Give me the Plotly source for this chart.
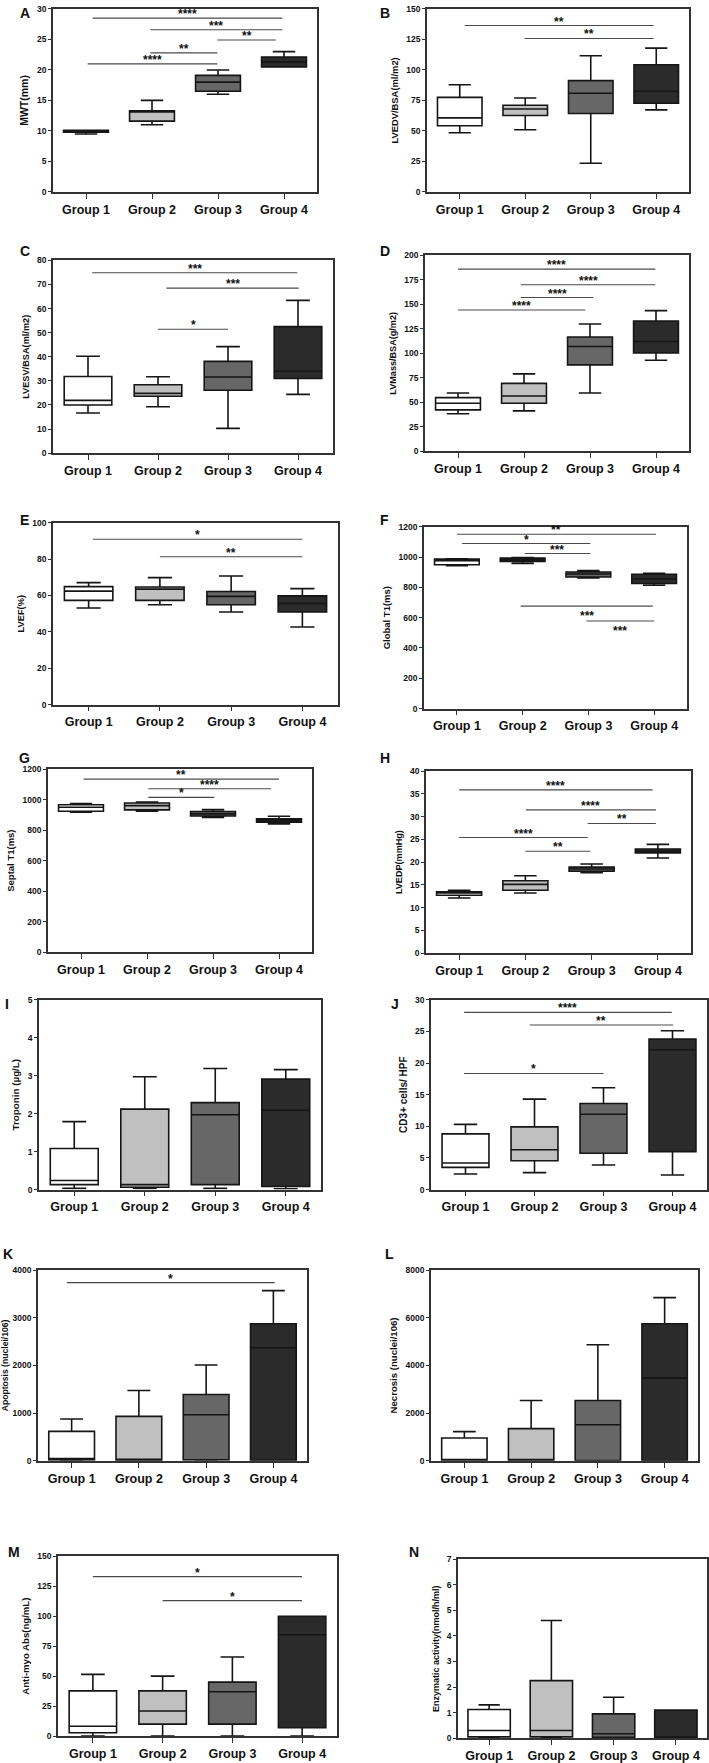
import plotly.graph_objects as go

W, H = 709, 1763
GROUPS = ["Group 1", "Group 2", "Group 3", "Group 4"]
FILLS = ["#ffffff", "#c0c0c0", "#676767", "#2b2b2b"]
FONT = "Liberation Sans, Arial, sans-serif"

# Each panel: per group [lower whisker, q1, median, q3, upper whisker]
MWT = [[9.5, 9.8, 9.9, 10.1, 10.1], [11.0, 11.6, 13.1, 13.3, 15.0],
       [16.0, 16.5, 18.0, 19.1, 20.0], [20.5, 20.5, 21.3, 22.1, 23.0]]
LVEDV = [[48.5, 54.2, 60.7, 77.5, 87.9], [50.9, 62.6, 68.0, 71.0, 77.0],
         [23.4, 64.3, 80.9, 91.2, 111.6], [67.2, 72.7, 82.5, 104.3, 117.9]]
LVESV = [[16.7, 20.0, 21.9, 31.8, 40.2], [19.3, 23.6, 24.8, 28.4, 31.7],
         [10.3, 26.1, 31.6, 38.1, 44.2], [24.4, 31.0, 34.0, 52.5, 63.4]]
LVMASS = [[38.2, 42.2, 49.0, 54.7, 59.5], [41.2, 49.0, 56.4, 69.3, 79.0],
          [59.5, 88.2, 107.0, 116.6, 130.0], [92.9, 100.3, 112.0, 133.0, 143.6]]
LVEF = [[53.1, 57.3, 62.4, 64.9, 67.1], [54.9, 57.3, 63.5, 64.7, 69.8],
        [50.9, 54.9, 59.5, 62.2, 70.7], [42.7, 50.9, 55.6, 59.8, 63.8]]
GLOBAL_T1 = [[943, 949, 975, 986, 988], [958, 971, 982, 993, 997],
             [862, 868, 888, 901, 910], [814, 825, 855, 886, 892]]
SEPTAL_T1 = [[917, 924, 950, 967, 974], [924, 933, 961, 978, 985],
             [883, 893, 907, 922, 935], [841, 852, 863, 874, 891]]
LVEDP = [[12.1, 12.7, 13.2, 13.45, 13.8], [13.2, 13.8, 15.1, 15.9, 17.0],
         [17.7, 18.0, 18.5, 18.9, 19.6], [20.9, 22.0, 22.4, 22.9, 23.9]]
TROPONIN = [[0.03, 0.13, 0.24, 1.08, 1.79], [0.03, 0.06, 0.13, 2.12, 2.97],
            [0.03, 0.13, 1.97, 2.29, 3.19], [0.02, 0.08, 2.09, 2.91, 3.16]]
CD3 = [[2.46, 3.5, 4.2, 8.8, 10.3], [2.67, 4.55, 6.3, 9.9, 14.3],
       [3.87, 5.75, 11.9, 13.6, 16.1], [2.3, 6.0, 22.1, 23.8, 25.1]]
APOPTOSIS = [[0, 21, 49, 619, 877], [0, 14, 28, 932, 1475],
             [0, 21, 967, 1391, 2010], [0, 14, 2372, 2873, 3569]]
NECROSIS = [[0, 14, 42, 960, 1224], [0, 10, 30, 1350, 2532],
            [0, 14, 1517, 2532, 4870], [0, 14, 3478, 5746, 6845]]
ANTIMYO = [[0, 2.8, 8.3, 37.7, 51.5], [0, 10, 21, 37.7, 50],
           [0, 10, 37, 45, 66], [0, 7, 84.5, 100, 100]]
ENZYME = [[0, 0.05, 0.3, 1.12, 1.3], [0, 0.05, 0.3, 2.25, 4.6],
          [0, 0.03, 0.17, 0.95, 1.6], [0, 0.0, 0.02, 1.1, 1.1]]

# Significance brackets: (from group pos, to group pos, y value, label, below?)
MWT_SIG = [(0.1, 2.975, 28.5, "****", 0), (0.975, 2.975, 26.6, "***", 0),
           (1.99, 2.875, 24.9, "**", 0), (0.975, 1.99, 22.8, "**", 0),
           (0.025, 1.99, 21.0, "****", 0)]
LVEDV_SIG = [(0.076, 2.96, 136.4, "**", 0), (0.99, 2.96, 125.8, "**", 0)]
LVESV_SIG = [(0.06, 2.99, 74.9, "***", 0), (1.12, 3.01, 68.5, "***", 0),
             (1.0, 2.0, 51.4, "*", 0)]
LVMASS_SIG = [(0.0, 2.99, 186, "****", 0), (0.95, 2.99, 170, "****", 0),
              (0.95, 2.05, 157, "****", 0), (0.0, 1.93, 144.3, "****", 0)]
LVEF_SIG = [(0.06, 3.0, 90.9, "*", 0), (1.0, 3.0, 81.3, "**", 0)]
GLOBAL_T1_SIG = [(0.0, 3.03, 1150, "**", 0), (0.08, 2.03, 1089, "*", 0),
                 (1.03, 2.03, 1023, "***", 0), (0.97, 2.98, 676, "***", 1),
                 (1.97, 3.0, 578, "***", 1)]
SEPTAL_T1_SIG = [(0.04, 3.0, 1135, "**", 0), (1.02, 2.88, 1072, "****", 0),
                 (1.02, 2.02, 1015, "*", 0)]
LVEDP_SIG = [(0.0, 2.92, 35.9, "****", 0), (1.01, 2.97, 31.5, "****", 0),
             (1.94, 2.97, 28.5, "**", 0), (0.0, 1.94, 25.4, "****", 0),
             (1.0, 1.98, 22.4, "**", 0)]
CD3_SIG = [(-0.02, 2.99, 28.0, "****", 0), (0.93, 3.01, 26.0, "**", 0),
           (-0.02, 2.0, 18.35, "*", 0)]
APOPTOSIS_SIG = [(-0.07, 3.02, 3736, "*", 0)]
ANTIMYO_SIG = [(0.0, 3.0, 133, "*", 0), (1.0, 3.0, 113, "*", 0)]

# panel layout: letter, data, sig, y title, y max, dtick, frame px (x0, x1, y0, y1), title size, letter px
PANELS = [
    ("A", MWT, MWT_SIG, "MWT(mm)", 30, 5, (53, 317, 4, 188), 10.5, (18, 8)),
    ("B", LVEDV, LVEDV_SIG, "LVEDV/BSA(ml/m2)", 150, 25, (427, 689, 4, 188), 9.4, (378, 8)),
    ("C", LVESV, LVESV_SIG, "LVESV/BSA(ml/m2)", 80, 10, (53, 333, 257, 451), 9.2, (18, 248)),
    ("D", LVMASS, LVMASS_SIG, "LVMass/BSA(g/m2)", 200, 25, (425, 689, 252, 449), 9.1, (378, 248)),
    ("E", LVEF, LVEF_SIG, "LVEF(%)", 100, 20, (53, 338, 521, 704), 9.3, (18, 518)),
    ("F", GLOBAL_T1, GLOBAL_T1_SIG, "Global T1(ms)", 1200, 200, (424, 687, 525, 708), 9.5, (378, 518)),
    ("G", SEPTAL_T1, SEPTAL_T1_SIG, "Septal T1(ms)", 1200, 200, (48, 312, 769, 953), 9.5, (17, 758)),
    ("H", LVEDP, LVEDP_SIG, "LVEDP(mmHg)", 40, 5, (426, 691, 771, 954), 9.1, (378, 758)),
    ("I", TROPONIN, [], "Troponin (µg/L)", 5, 1, (39, 321, 1001, 1192), 9.8, (3, 1005)),
    ("J", CD3, CD3_SIG, "CD3+ cells/ HPF", 30, 5, (431, 707, 1001, 1192), 10, (389, 1005)),
    ("K", APOPTOSIS, APOPTOSIS_SIG, "Apoptosis (nuclei/106)", 4000, 1000, (38, 307, 1273, 1465), 8.6, (1, 1257)),
    ("L", NECROSIS, [], "Necrosis (nuclei/106)", 8000, 2000, (431, 698, 1273, 1465), 9.6, (383, 1257)),
    ("M", ANTIMYO, ANTIMYO_SIG, "Anti-myo Abs(ng/mL)", 150, 25, (58, 337, 1561, 1742), 9.6, (6, 1557)),
    ("N", ENZYME, [], "Enzymatic activity(nmol/h/ml)", 7, 1, (458, 707, 1564, 1744), 9.0, (407, 1557)),
]

fig = go.Figure()
shapes, annotations = [], []
layout = {}

for i, (letter, data, sig, ytitle, ymax, dtick, frame, tsize, lpos) in enumerate(PANELS):
    n = i + 1
    xa, ya = f"x{n}", f"y{n}"
    x0, x1, y0, y1 = frame
    for j, g in enumerate(data):
        lo, q1, med, q3, hi = g
        fig.add_trace(go.Box(
            x=[j], lowerfence=[lo], q1=[q1], median=[med], q3=[q3], upperfence=[hi],
            fillcolor=FILLS[j], line=dict(color="#151515", width=1.6),
            width=0.68, whiskerwidth=0.5, boxpoints=False,
            showlegend=False, hoverinfo="skip", xaxis=xa, yaxis=ya))
    axis_line = dict(showline=True, mirror=True, linecolor="#333333", linewidth=1.6,
                     ticks="outside", tickcolor="#333333", tickwidth=1.4,
                     showgrid=False, zeroline=False, fixedrange=True)
    layout[f"xaxis{n}"] = dict(
        domain=[x0 / W, x1 / W], range=[-0.5, 3.5], anchor=ya,
        tickmode="array", tickvals=[0, 1, 2, 3], ticktext=GROUPS, ticklen=5,
        tickfont=dict(family=FONT, size=12.5, color="#111111", weight="bold"),
        **axis_line)
    layout[f"yaxis{n}"] = dict(
        domain=[1 - y1 / H, 1 - y0 / H], range=[0, ymax], dtick=dtick, anchor=xa,
        ticklen=3,
        tickfont=dict(family=FONT, size=8.5, color="#111111", weight="bold"),
        title=dict(text=ytitle, standoff=6,
                   font=dict(family=FONT, size=tsize, color="#111111", weight="bold")),
        **axis_line)
    for (sx0, sx1, sy, lab, below) in sig:
        shapes.append(dict(type="line", xref=xa, yref=ya, x0=sx0, x1=sx1, y0=sy, y1=sy,
                           line=dict(color="#4a4a4a", width=1.1)))
        annotations.append(dict(
            xref=xa, yref=ya, x=(sx0 + sx1) / 2, y=sy, text=lab, showarrow=False,
            yanchor="top" if below else "middle", yshift=-1 if below else 4,
            font=dict(family=FONT, size=12, color="#111111", weight="bold")))
    annotations.append(dict(
        xref="paper", yref="paper", x=lpos[0] / W, y=1 - lpos[1] / H, text=letter,
        showarrow=False, xanchor="left", yanchor="middle",
        font=dict(family=FONT, size=14, color="#111111", weight="bold")))

fig.update_layout(
    width=W, height=H, margin=dict(l=0, r=0, t=0, b=0),
    paper_bgcolor="white", plot_bgcolor="white",
    shapes=shapes, annotations=annotations, **layout)

fig.write_html("out.html", config={"displayModeBar": False},
               post_script="document.body.style.margin='0';")
